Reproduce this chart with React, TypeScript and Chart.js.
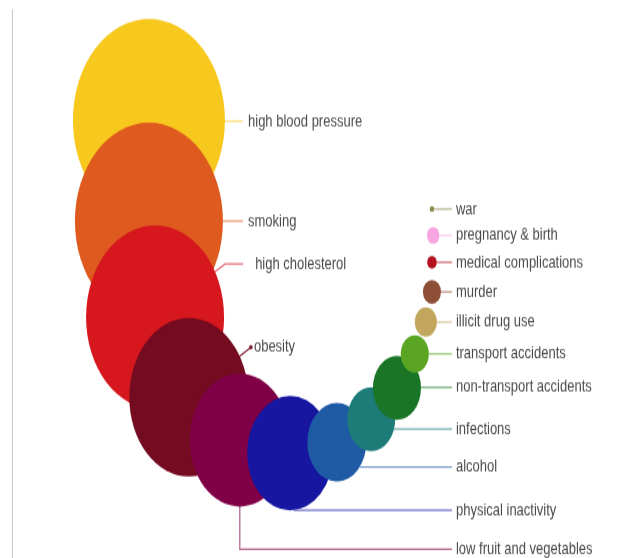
import React, { useEffect, useRef } from "react";
import { Chart, registerables } from "chart.js";

Chart.register(...registerables);

// ---- data ----
const categories = [
  "high blood pressure",
  "smoking",
  "high cholesterol",
  "obesity",
  "low fruit and vegetables",
  "physical inactivity",
  "alcohol",
  "infections",
  "non-transport accidents",
  "transport accidents",
  "illicit drug use",
  "murder",
  "medical complications",
  "pregnancy & birth",
  "war",
];
const xValues = [22.3, 22.3, 23.3, 28.8, 37.1, 45.3, 52.9, 58.5, 62.7, 65.6, 67.4, 68.4, 68.4, 68.6, 68.4];
const yValues = [79.8, 61.4, 43.9, 29.3, 21.5, 19.1, 21.1, 25.3, 31.0, 37.2, 43.0, 48.5, 53.9, 58.8, 63.6];
const sizes = [76, 74, 69, 59.5, 50, 43, 29.5, 24, 24, 14, 11, 9, 4.8, 6.3, 2.3];

// ---- styles / layout ----
const colors = [
  "#F7C81E",
  "#DE5A1F",
  "#D6171E",
  "#740B20",
  "#800048",
  "#1616A0",
  "#1F5BA5",
  "#1D7C78",
  "#1B7527",
  "#5AA623",
  "#C2A65E",
  "#8E4E37",
  "#B4101E",
  "#F7A6E2",
  "#8C8C50",
];
type Route = "h" | "down" | "diag";
const labelLayout: { x: number; y: number; gap: number; route: Route; elbow?: number; dot?: boolean }[] = [
  { x: 38.44, y: 79.6, gap: 5, route: "h" },
  { x: 38.44, y: 61.4, gap: 5, route: "h" },
  { x: 39.6, y: 53.6, gap: 12, route: "diag", elbow: 18 },
  { x: 39.4, y: 38.4, gap: 3, route: "diag", elbow: 0, dot: true },
  { x: 72.3, y: 1.6, gap: 4, route: "down" },
  { x: 72.3, y: 8.7, gap: 4, route: "h" },
  { x: 72.3, y: 16.6, gap: 4, route: "h" },
  { x: 72.3, y: 23.5, gap: 4, route: "h" },
  { x: 72.3, y: 31.1, gap: 4, route: "h" },
  { x: 72.3, y: 37.2, gap: 4, route: "h" },
  { x: 72.3, y: 43.0, gap: 4, route: "h" },
  { x: 72.3, y: 48.5, gap: 4, route: "h" },
  { x: 72.3, y: 53.9, gap: 4, route: "h" },
  { x: 72.3, y: 58.8, gap: 4, route: "h" },
  { x: 72.3, y: 63.6, gap: 4, route: "h" },
];

const W = 626;
const H = 419;
const STRETCH = 558 / H;

function withAlpha(hex: string, a: number) {
  const n = parseInt(hex.slice(1), 16);
  return `rgba(${(n >> 16) & 255},${(n >> 8) & 255},${n & 255},${a})`;
}

const leaderPlugin = {
  id: "leaders",
  beforeDatasetsDraw(chart: any) {
    const { ctx, scales } = chart;
    const xs = scales.x;
    const ys = scales.y;
    const meta = chart.getDatasetMeta(0);
    ctx.save();
    meta.data.forEach((el: any, i: number) => {
      const L = labelLayout[i];
      const cx = el.x;
      const cy = el.y;
      const r = el.options.radius;
      const tx = xs.getPixelForValue(L.x);
      const ty = ys.getPixelForValue(L.y);
      const endX = tx - L.gap;
      ctx.strokeStyle = withAlpha(colors[i], i === 3 ? 0.9 : 0.6);
      ctx.lineWidth = 1.3;
      ctx.beginPath();
      if (L.route === "h") {
        const dy = ty - cy;
        const sx = cx + Math.sqrt(Math.max(0, r * r - dy * dy));
        ctx.moveTo(sx, ty);
        ctx.lineTo(endX, ty);
      } else if (L.route === "down") {
        ctx.moveTo(cx, cy);
        ctx.lineTo(cx, ty);
        ctx.lineTo(endX, ty);
      } else {
        ctx.moveTo(cx, cy);
        ctx.lineTo(endX - (L.elbow || 0), ty);
        ctx.lineTo(endX, ty);
      }
      ctx.stroke();
      if (L.dot) {
        ctx.fillStyle = withAlpha(colors[i], 0.9);
        ctx.beginPath();
        ctx.arc(endX, ty, 1.8, 0, Math.PI * 2);
        ctx.fill();
      }
    });
    ctx.restore();
  },
  afterDatasetsDraw(chart: any) {
    const { ctx, scales } = chart;
    ctx.save();
    ctx.font = '13px "Liberation Sans", Arial, sans-serif';
    ctx.fillStyle = "#4a4a4a";
    ctx.textBaseline = "middle";
    ctx.textAlign = "left";
    categories.forEach((c, i) => {
      const L = labelLayout[i];
      ctx.fillText(c, scales.x.getPixelForValue(L.x), scales.y.getPixelForValue(L.y));
    });
    ctx.restore();
  },
};

export default function App() {
  const ref = useRef<HTMLCanvasElement | null>(null);
  useEffect(() => {
    document.body.style.margin = "0";
    if (!ref.current) return;
    const chart = new Chart(ref.current, {
      type: "bubble",
      data: {
        datasets: [
          {
            label: "causes",
            data: categories.map((_, i) => ({ x: xValues[i], y: yValues[i], r: sizes[i] })),
            backgroundColor: colors,
            borderColor: colors,
            borderWidth: 0,
            clip: false as any,
          },
        ],
      },
      options: {
        responsive: false,
        animation: false,
        events: [],
        layout: { autoPadding: false, padding: { left: 12, top: 7, right: 0, bottom: 0 } },
        plugins: { legend: { display: false }, tooltip: { enabled: false } },
        scales: {
          x: { type: "linear", min: 0, max: 100, display: false },
          y: {
            type: "linear",
            min: 0,
            max: 100,
            display: true,
            grid: { display: false, drawTicks: false },
            ticks: { display: false },
            border: { display: true, color: "#c8c8c8", width: 1 },
          },
        },
      },
      plugins: [leaderPlugin],
    });
    return () => chart.destroy();
  }, []);
  return (
    <div style={{ width: W, height: 558, overflow: "hidden", background: "#fff" }}>
      <div style={{ width: W, height: H, transform: `scaleY(${STRETCH})`, transformOrigin: "0 0" }}>
        <canvas ref={ref} width={W} height={H} style={{ display: "block" }} />
      </div>
    </div>
  );
}
